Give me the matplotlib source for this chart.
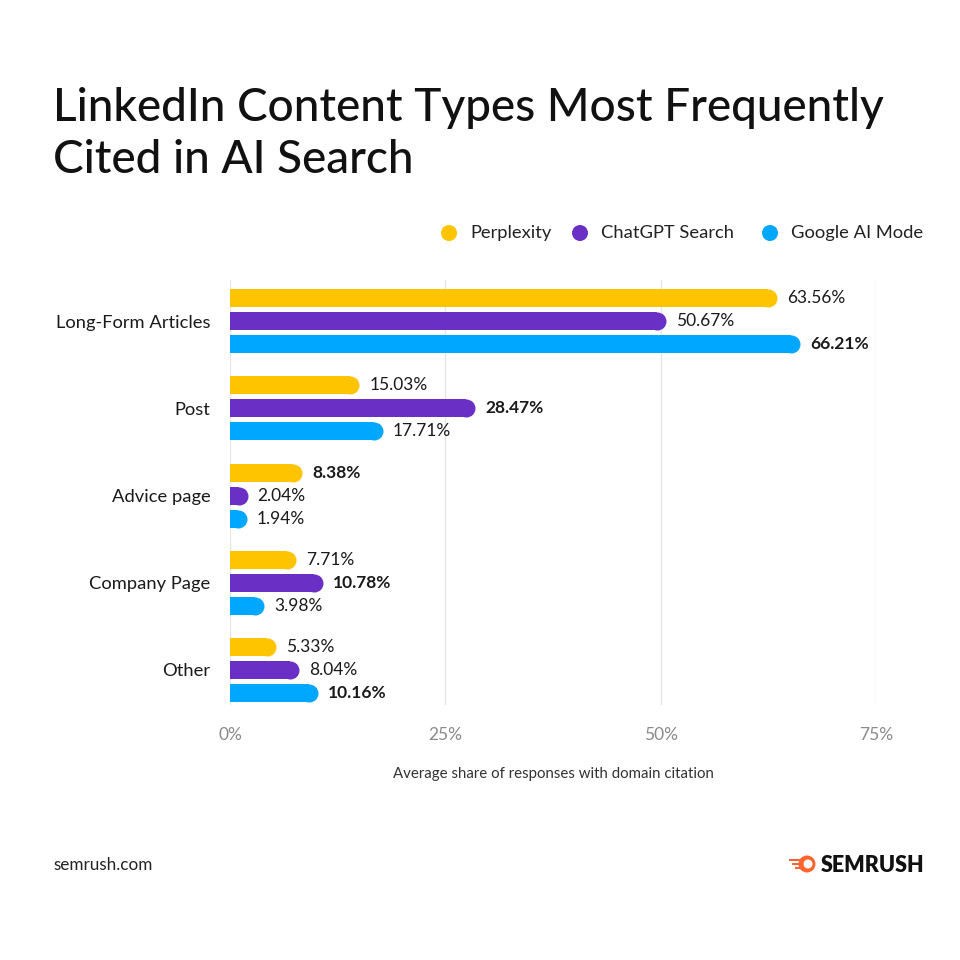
import matplotlib
matplotlib.use("Agg")
import matplotlib.pyplot as plt
import numpy as np
from matplotlib.patches import Circle, Rectangle

categories = ["Long-Form Articles", "Post", "Advice page", "Company Page", "Other"]
series_names = ["Perplexity", "ChatGPT Search", "Google AI Mode"]
perplexity = [63.56, 15.03, 8.38, 7.71, 5.33]
chatgpt = [50.67, 28.47, 2.04, 10.78, 8.04]
google = [66.21, 17.71, 1.94, 3.98, 10.16]
xticks = [0, 25, 50, 75]
xtick_labels = ["0%", "25%", "50%", "75%"]
colors = ["#FFC400", "#6A30C5", "#00A7FF"]

FONT = "Lato"
plt.rcParams['font.family'] = [FONT, 'DejaVu Sans']

W, H = 960, 960
fig = plt.figure(figsize=(9.6, 9.6), dpi=100)
fig.patch.set_facecolor("white")

ax_left, ax_right, ax_top, ax_bot = 230, 876, 280, 705
ax = fig.add_axes([ax_left / W, 1 - ax_bot / H, (ax_right - ax_left) / W, (ax_bot - ax_top) / H])
ax.set_xlim(0, 75)
grp_px = 87.25
top0 = 321
ax.set_ylim((ax_bot - top0) / grp_px, (ax_top - top0) / grp_px)

px_per_x = (ax_right - ax_left) / 75.0
bar_h_px = 18
r_data = (bar_h_px / 2) / px_per_x
bar_h = bar_h_px / grp_px
off = 23 / grp_px

for x in xticks:
    ax.axvline(x, color="#E6E6E6", lw=1.0, zorder=0)

all_series = [perplexity, chatgpt, google]
ypos = np.arange(len(categories))
for si, vals in enumerate(all_series):
    ys = ypos + (si - 1) * off
    widths = [max(v - r_data, 0) for v in vals]
    ax.barh(ys, widths, height=bar_h, color=colors[si], zorder=2, linewidth=0)
    ax.scatter([v - r_data for v in vals], ys, s=(bar_h_px * 0.72) ** 2, color=colors[si],
               marker="o", linewidths=0, zorder=2, clip_on=True)

for ci in range(len(categories)):
    vals = [s[ci] for s in all_series]
    mx = max(vals)
    for si, v in enumerate(vals):
        y = ci + (si - 1) * off
        ax.text(v + 10 / px_per_x, y, f"{v:.2f}%", va="center", ha="left",
                fontsize=12.5, color="#1a1a1a",
                fontweight="bold" if v == mx else "normal", zorder=3)

ax.set_yticks(ypos)
ax.set_yticklabels(categories, fontsize=13.2, color="#1a1a1a")
ax.tick_params(axis="y", length=0, pad=14)
ax.set_xticks(xticks)
ax.set_xticklabels(xtick_labels, fontsize=12.5, color="#8a8a8a")
ax.tick_params(axis="x", length=0, pad=16)
for s in ax.spines.values():
    s.set_visible(False)
ax.set_xlabel("Average share of responses with domain citation", fontsize=10.8, color="#333333", labelpad=17)

# Title
fig.text(53 / W, 1 - 108 / H, "LinkedIn Content Types Most Frequently", fontsize=33, fontweight="medium",
         color="#111111", va="center", ha="left")
fig.text(53 / W, 1 - 160 / H, "Cited in AI Search", fontsize=33, fontweight="medium",
         color="#111111", va="center", ha="left")

# Legend
leg_x = [449, 580, 770]
for i, name in enumerate(series_names):
    fig.patches.append(Circle((leg_x[i] / W, 1 - 233 / H), 8 / W, transform=fig.transFigure,
                              facecolor=colors[i], edgecolor="none"))
    fig.text((leg_x[i] + 21) / W, 1 - 233 / H, name, fontsize=13.2, color="#222222", va="center", ha="left")

# Footer
fig.text(53 / W, 1 - 865 / H, "semrush.com", fontsize=12.3, color="#222222", va="center", ha="left")
fig.text(924 / W, 1 - 865 / H, "SEMRUSH", fontsize=15.5, fontweight="heavy", color="#111111",
         va="center", ha="right")
# logo icon
cx, cy = 807 / W, 1 - 864 / H
fig.patches.append(Circle((cx, cy), 8.5 / W, transform=fig.transFigure, facecolor="#FF642D", edgecolor="none"))
fig.patches.append(Circle((cx + 1 / W, cy), 4.5 / W, transform=fig.transFigure, facecolor="white", edgecolor="none"))
for dy, x0, ln in [(4, 789, 14), (0, 792, 11), (-4, 795, 9)]:
    fig.patches.append(Rectangle((x0 / W, cy + (dy - 1.3) / H), ln / W, 2.6 / H, transform=fig.transFigure,
                                 facecolor="#FF642D", edgecolor="none"))

fig.savefig("out.png", dpi=100, facecolor="white")
